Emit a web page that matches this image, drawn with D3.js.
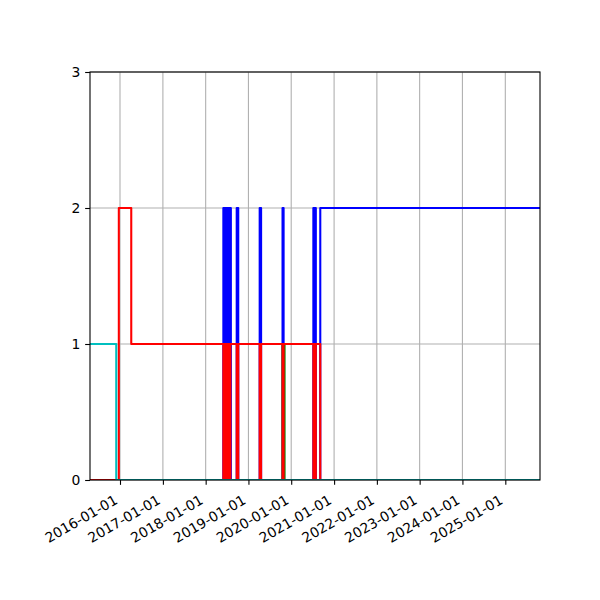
<!DOCTYPE html>
<html><head><meta charset="utf-8">
<script src="https://cdn.jsdelivr.net/npm/d3@7"></script>
<style>
body{margin:0;background:#fff}
text{font-family:"DejaVu Sans",sans-serif;font-size:13.9px;fill:#000}
</style>
</head><body>
<svg id="chart" width="600" height="600"></svg>
<script>
// ---- data ----
const xDomain = ["2015-04-20", "2025-10-24"];
const yTicks = [0, 1, 2, 3];
const xTickLabels = ["2016-01-01","2017-01-01","2018-01-01","2019-01-01","2020-01-01",
                     "2021-01-01","2022-01-01","2023-01-01","2024-01-01","2025-01-01"];

// step series: [change date, value from that date on]
const blueSteps = [
  ["2015-04-20",0],
  ["2018-06-01",2],["2018-06-06",0],["2018-06-09",2],["2018-06-14",0],
  ["2018-06-17",2],["2018-06-22",0],["2018-06-25",2],["2018-06-30",0],
  ["2018-07-03",2],["2018-07-08",0],["2018-07-11",2],["2018-07-16",0],
  ["2018-07-19",2],["2018-07-24",0],["2018-07-27",2],["2018-08-04",0],
  ["2018-09-23",2],["2018-10-06",0],
  ["2019-04-07",2],["2019-04-19",0],
  ["2019-10-19",2],["2019-10-28",0],
  ["2020-07-08",2],["2020-07-16",0],["2020-07-20",2],["2020-07-29",0],
  ["2020-09-05",2]
];
const greenSteps = [
  ["2015-04-20",0],
  ["2019-10-19",1],["2019-11-05",0]
];
const redSteps = [
  ["2015-04-20",0],
  ["2015-12-22",2],
  ["2016-04-06",1],
  ["2018-06-01",0],["2018-06-06",1],["2018-06-09",0],["2018-06-14",1],
  ["2018-06-17",0],["2018-06-22",1],["2018-06-25",0],["2018-06-30",1],
  ["2018-07-03",0],["2018-07-08",1],["2018-07-11",0],["2018-07-16",1],
  ["2018-07-19",0],["2018-07-24",1],["2018-07-27",0],["2018-07-31",1],
  ["2018-09-23",0],["2018-10-06",1],
  ["2019-04-07",0],["2019-04-19",1],
  ["2019-10-19",0],["2019-10-28",1],
  ["2020-07-08",0],["2020-07-16",1],["2020-07-20",0],["2020-07-29",1],
  ["2020-09-05",0]
];
const cyanSteps = [
  ["2015-04-20",1],
  ["2015-11-30",0]
];

const seriesList = [
  {steps: blueSteps,  color: "#0000ff"},
  {steps: greenSteps, color: "#008000"},
  {steps: redSteps,   color: "#ff0000"},
  {steps: cyanSteps,  color: "#00bfbf"}
];

// ---- layout ----
const L = 90, R = 540, T = 72, B = 480;
const parse = d3.timeParse("%Y-%m-%d");
const fmt = d3.timeFormat("%Y-%m-%d");
const x = d3.scaleTime().domain(xDomain.map(parse)).range([L, R]);
const y = d3.scaleLinear().domain([0, 3]).range([B, T]);

const svg = d3.select("#chart");

svg.append("defs").append("clipPath").attr("id","clip")
  .append("rect").attr("x",L).attr("y",T).attr("width",R-L).attr("height",B-T);

// grid
const grid = svg.append("g");
xTickLabels.forEach(s => {
  grid.append("line").attr("x1",x(parse(s))).attr("x2",x(parse(s)))
    .attr("y1",T).attr("y2",B).attr("stroke","#b0b0b0").attr("stroke-width",1.1);
});
yTicks.forEach(v => {
  grid.append("line").attr("x1",L).attr("x2",R).attr("y1",y(v)).attr("y2",y(v))
    .attr("stroke","#b0b0b0").attr("stroke-width",1.1);
});

// lines
const line = d3.line()
  .x(d => x(parse(d[0]))).y(d => y(d[1]))
  .curve(d3.curveStepAfter);
const gLines = svg.append("g").attr("clip-path","url(#clip)");
seriesList.forEach(s => {
  const pts = s.steps.concat([[xDomain[1], s.steps[s.steps.length-1][1]]]);
  gLines.append("path").datum(pts).attr("d", line)
    .attr("fill","none").attr("stroke", s.color).attr("stroke-width",2.08)
    .attr("stroke-linejoin","round");
});

// axes
const xAxis = d3.axisBottom(x).tickValues(xTickLabels.map(parse)).tickFormat(fmt)
  .tickSize(4.86).tickPadding(0);
const gx = svg.append("g").attr("transform",`translate(0,${B})`).call(xAxis);
gx.select(".domain").remove();
gx.selectAll(".tick line").attr("stroke","#000").attr("stroke-width",1.1);
gx.selectAll(".tick text")
  .attr("text-anchor","end")
  .attr("dy",null)
  .attr("y",14.2).attr("x",0)
  .attr("transform","translate(-9,10.5) rotate(-30)");

const yAxis = d3.axisLeft(y).tickValues(yTicks).tickFormat(d3.format("d"))
  .tickSize(4.86).tickPadding(4.86);
const gy = svg.append("g").attr("transform",`translate(${L},0)`).call(yAxis);
gy.select(".domain").remove();
gy.selectAll(".tick line").attr("stroke","#000").attr("stroke-width",1.1);

gx.attr("font-family",null).attr("font-size",null);
gy.attr("font-family",null).attr("font-size",null);

// spines
svg.append("rect").attr("x",L).attr("y",T).attr("width",R-L).attr("height",B-T)
  .attr("fill","none").attr("stroke","#000").attr("stroke-width",1.1);
</script>
</body></html>
